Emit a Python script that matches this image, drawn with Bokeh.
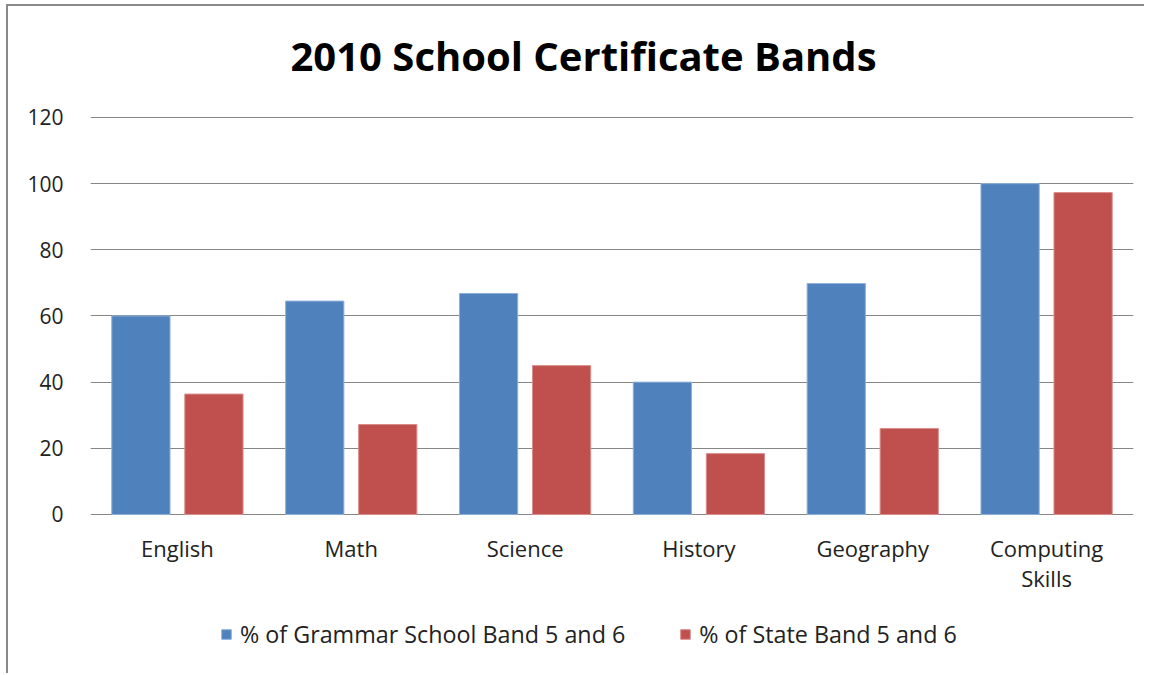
from bokeh.plotting import figure
from bokeh.models import ColumnDataSource, Legend, LegendItem, FactorRange, Range1d, LabelSet, Label
from bokeh.core.properties import value
from bokeh.transform import dodge
from bokeh.embed import file_html
from bokeh.resources import INLINE

title_text = "2010 School Certificate Bands"
categories = ["English", "Math", "Science", "History", "Geography", "Computing Skills"]
label_line1 = ["English", "Math", "Science", "History", "Geography", "Computing"]
label_line2 = ["", "", "", "", "", "Skills"]
grammar = [60, 64.5, 66.8, 40, 69.8, 100]
state = [36.4, 27.2, 45, 18.4, 26, 97.3]
series_names = ["% of Grammar School Band 5 and 6", "% of State Band 5 and 6"]
y_ticks = [0, 20, 40, 60, 80, 100, 120]

FONT = "Open Sans"
TXT = "#222222"
src = ColumnDataSource(dict(cat=categories, grammar=grammar, state=state,
                            l1=label_line1, l2=label_line2))

# the frame covers the whole chart area so the title, category labels and legend live inside it
p = figure(x_range=FactorRange(*categories, range_padding=0), y_range=Range1d(-48.67, 153.55),
           width=1138, height=669, output_backend="svg", toolbar_location=None,
           min_border_left=82, min_border_right=13, min_border_top=0, min_border_bottom=0,
           styles={"margin-left": "6px", "margin-top": "4px",
                   "border-left": "2px solid #8a8a8a", "border-top": "2px solid #8a8a8a"})

b1 = p.vbar(x=dodge("cat", -0.21, range=p.x_range), top="grammar", width=0.335, source=src,
            fill_color="#4F81BD", line_color="#8DB0DA", line_width=1)
b2 = p.vbar(x=dodge("cat", 0.21, range=p.x_range), top="state", width=0.335, source=src,
            fill_color="#C0504D", line_color="#D98E8C", line_width=1)

p.outline_line_color = None
p.xgrid.grid_line_color = None
p.ygrid.grid_line_color = "#868686"
p.ygrid.grid_line_width = 1
p.yaxis.ticker = y_ticks
p.yaxis.axis_line_color = None
p.yaxis.major_tick_line_color = None
p.yaxis.minor_tick_line_color = None
p.yaxis.major_label_standoff = 21
p.yaxis.major_label_text_font = FONT
p.yaxis.major_label_text_font_size = "21px"
p.yaxis.major_label_text_color = TXT
p.xaxis.visible = False

p.add_layout(Label(x=493, y=620, x_units="screen", y_units="screen", text=title_text,
                   text_font=FONT, text_font_size="40px", text_font_style="bold",
                   text_color="black", text_align="center", text_baseline="middle"))

for col, off in (("l1", -34), ("l2", -64)):
    p.add_layout(LabelSet(x="cat", y=0, y_offset=off, text=col, source=src,
                          text_font=value(FONT), text_font_size="22px", text_color=TXT,
                          text_align="center", text_baseline="middle"))

legend = Legend(items=[LegendItem(label=series_names[0], renderers=[b1]),
                       LegendItem(label=series_names[1], renderers=[b2])],
                orientation="horizontal", location=(130, 25),
                label_text_font=FONT, label_text_font_size="23.3px", label_text_color=TXT,
                glyph_width=12, glyph_height=12, label_standoff=8, spacing=54,
                border_line_color=None, background_fill_alpha=0, margin=0, padding=0)
p.add_layout(legend, "center")

open("out.html", "w").write(file_html(p, INLINE))
